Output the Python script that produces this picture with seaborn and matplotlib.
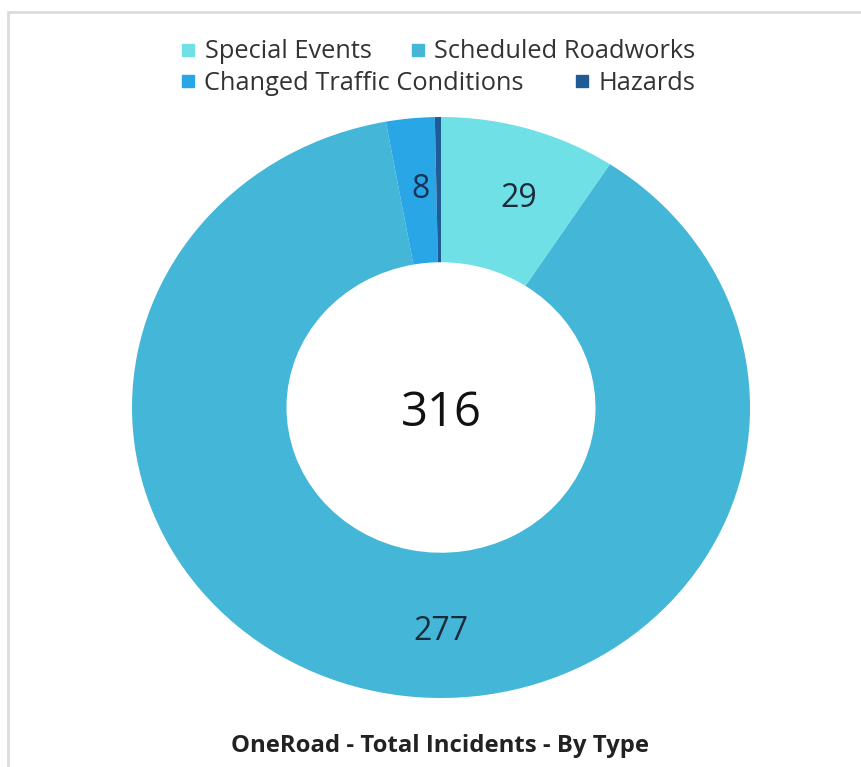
import matplotlib
matplotlib.use("Agg")
import matplotlib.pyplot as plt
import seaborn as sns
from matplotlib.patches import Rectangle
from matplotlib.lines import Line2D

sns.set_theme(style="white")
plt.rcParams['font.family'] = ['Open Sans', 'DejaVu Sans']

categories = ["Special Events", "Scheduled Roadworks", "Changed Traffic Conditions", "Hazards"]
values = [29, 277, 8, 1]
total_label = "316"
colors = ["#6fe0e6", "#44b6d7", "#28a6e6", "#1f5c96"]
title = "OneRoad - Total Incidents - By Type"

fig = plt.figure(figsize=(8.61, 7.67), dpi=100)
fig.patch.set_facecolor("white")

# light frame
fig.add_artist(Rectangle((8/861, -0.05), 1.2, 1 - 12/767 + 0.05, transform=fig.transFigure,
                         fill=False, edgecolor="#dcdcdc", linewidth=2))

ax = fig.add_axes([132/861, 1 - 698/767, 618/861, 581/767])
wedges, texts, autotexts = ax.pie(
    values, colors=colors, startangle=90, counterclock=False, radius=1,
    wedgeprops=dict(width=0.5, linewidth=0),
    autopct=lambda p: f"{p*sum(values)/100:.0f}" if p > 1 else "",
    pctdistance=0.75,
    textprops=dict(color="#1b2b3b", fontsize=23),
)
ax.set_aspect("auto")
ax.set_xlim(-1, 1)
ax.set_ylim(-1, 1)
ax.axis("off")
autotexts[1].set_position((0.0, -0.77))
autotexts[2].set_position((-0.065, 0.75))
autotexts[2].set_color("#17335a")
autotexts[0].set_position((0.25, 0.72))

ax.text(0, -0.02, total_label, ha="center", va="center", fontsize=34, color="#111111")

def handle(c):
    return Line2D([], [], marker="s", linestyle="none", markersize=8,
                  markerfacecolor=c, markeredgecolor=c)

leg_kw = dict(loc="center", frameon=False, fontsize=18.3, handlelength=0.6,
              handletextpad=0.35, labelcolor="#333333", borderpad=0, borderaxespad=0)
leg1 = fig.legend([handle(colors[0]), handle(colors[1])], categories[:2], ncol=2,
                  bbox_to_anchor=(438/861, 1 - 52/767), columnspacing=1.5, **leg_kw)
leg2 = fig.legend([handle(colors[2]), handle(colors[3])], categories[2:], ncol=2,
                  bbox_to_anchor=(438/861, 1 - 83/767), columnspacing=2.0, **leg_kw)

fig.text(440/861, 1 - 746/767, title, ha="center", va="center", fontsize=17.2,
         fontweight="bold", color="#222222")

fig.savefig("out.png", dpi=100, facecolor="white")
